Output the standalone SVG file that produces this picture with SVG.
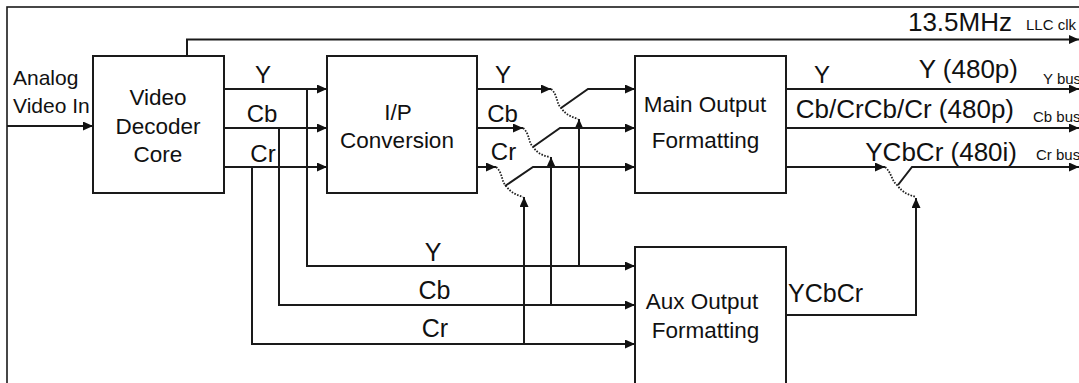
<svg xmlns="http://www.w3.org/2000/svg" width="1079" height="383" viewBox="0 0 1079 383">
<defs>
<marker id="ah" markerUnits="userSpaceOnUse" markerWidth="11" markerHeight="10" refX="10" refY="4.5" orient="auto">
<path d="M0,0 L10,4.5 L0,9 z" fill="#111"/>
</marker>
<style>
.box{fill:#fff;stroke:#1a1a1a;stroke-width:2}
.ln{fill:none;stroke:#1a1a1a;stroke-width:2}
.arr{fill:none;stroke:#1a1a1a;stroke-width:2;marker-end:url(#ah)}
.dot{fill:none;stroke:#222;stroke-width:1.8;stroke-dasharray:1.6 1.4}
text{font-family:"Liberation Sans",Arial,sans-serif;fill:#111}
.t21{font-size:21px}
.t22{font-size:22.5px}
.t24{font-size:24px}
.t25{font-size:25px}
.t26{font-size:26px}
.t14{font-size:15px}
.m{text-anchor:middle}
.e{text-anchor:end}
</style>
</defs>
<rect width="1079" height="383" fill="#fff"/>
<rect x="7" y="7" width="1100" height="420" fill="none" stroke="#1a1a1a" stroke-width="1.6"/>

<g id="connectors">
<path class="arr" d="M7,126 H93"/>
<path class="arr" d="M187,57 V39.5 H1079"/>
<path class="arr" d="M224,89 H327"/>
<path class="arr" d="M224,128 H327"/>
<path class="arr" d="M224,167 H327"/>
<path class="arr" d="M307,89 V266 H635"/>
<path class="arr" d="M279,128 V305 H635"/>
<path class="arr" d="M252,167 V344 H635"/>
<path class="arr" d="M477,89 H551"/>
<path class="arr" d="M477,128 H523"/>
<path class="arr" d="M477,167 H496"/>
<path class="arr" d="M579,266 V119"/>
<path class="arr" d="M551,305 V157"/>
<path class="arr" d="M524,344 V197"/>
<path class="dot" d="M551,89 C558,95 556,103 561,108 C566,115 572,117 578,119"/>
<path class="dot" d="M523,128 C530,134 528,142 533,147 C538,154 544,156 550,157"/>
<path class="dot" d="M496,167 C503,173 501,181 506,186 C511,193 517,195 523,197"/>
<path class="arr" d="M561,108 L588,89 H635"/>
<path class="arr" d="M533,147 L560,128 H635"/>
<path class="arr" d="M505,186 L533,167 H635"/>
<path class="arr" d="M786,89 H1079"/>
<path class="arr" d="M786,128 H1079"/>
<path class="arr" d="M786,167 H885"/>
<path class="dot" d="M885,167 C892,173 891,180 897,185 C903,193 909,195 916,197"/>
<path class="arr" d="M898,185 L912,167 H1079"/>
<path class="arr" d="M786,315 H916 V198"/>
</g>

<g id="decoder">
<rect class="box" x="93" y="56" width="131" height="137"/>
<text class="t22 m" x="158" y="105">Video</text>
<text class="t22 m" x="158" y="134">Decoder</text>
<text class="t22 m" x="158" y="162">Core</text>
</g>

<g id="ip">
<rect class="box" x="327" y="56" width="150" height="137"/>
<text class="t22 m" x="398" y="120">I/P</text>
<text class="t22 m" x="397" y="148">Conversion</text>
</g>

<g id="main">
<rect class="box" x="635" y="56" width="151" height="137"/>
<text class="t22 m" x="705" y="111.5">Main Output</text>
<text class="t22 m" x="705.5" y="147.5">Formatting</text>
</g>

<g id="aux">
<rect class="box" x="635" y="247" width="151" height="180"/>
<text class="t22 m" x="702" y="309">Aux Output</text>
<text class="t22 m" x="705.5" y="338">Formatting</text>
</g>

<g id="labels">
<text class="t21" x="13" y="85">Analog</text>
<text class="t21" x="13" y="113">Video In</text>
<text class="t24 m" x="263" y="82.5">Y</text>
<text class="t24 m" x="262" y="121.5">Cb</text>
<text class="t24 m" x="263" y="161.5">Cr</text>
<text class="t24 m" x="503" y="82.5">Y</text>
<text class="t24 m" x="502.5" y="121.5">Cb</text>
<text class="t24 m" x="503.5" y="160">Cr</text>
<text class="t25 m" x="433" y="261">Y</text>
<text class="t25 m" x="434.5" y="299">Cb</text>
<text class="t25 m" x="435" y="337">Cr</text>
<text class="t25" x="788" y="301.5">YCbCr</text>
<text class="t24 m" x="822" y="83">Y</text>
<text class="t26 e" x="1012" y="30.5">13.5MHz</text>
<text class="t26 e" x="1018" y="78">Y (480p)</text>
<text class="t26 e" x="1014" y="118">Cb/CrCb/Cr (480p)</text>
<text class="t26 e" x="1017" y="160.5">YCbCr (480i)</text>
<text class="t14" x="1026" y="30">LLC clk</text>
<text class="t14" x="1043" y="84">Y bus</text>
<text class="t14" x="1033" y="121.5">Cb bus</text>
<text class="t14" x="1036" y="159.5">Cr bus</text>
</g>
</svg>
